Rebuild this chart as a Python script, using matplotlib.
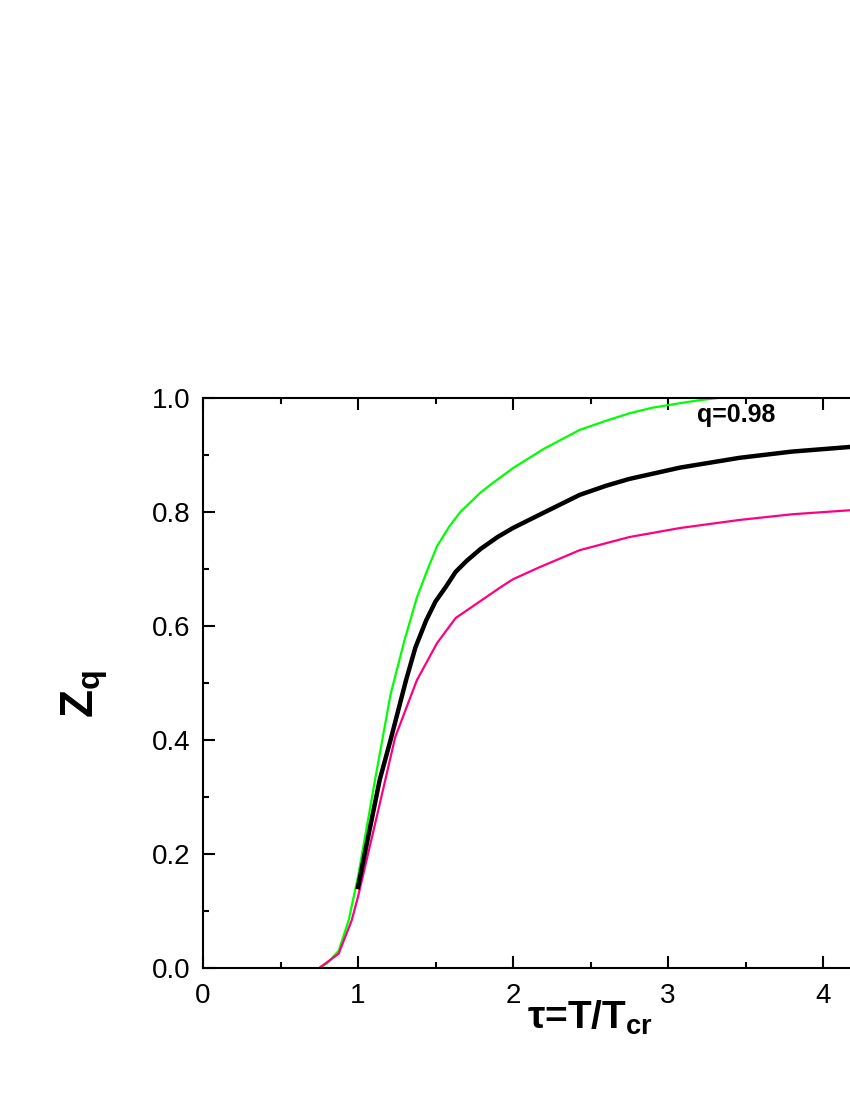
import numpy as np
import matplotlib
matplotlib.use("Agg")
import matplotlib.pyplot as plt
from matplotlib.ticker import MultipleLocator, FormatStrFormatter

plt.rcParams['font.family'] = ['Liberation Sans', 'DejaVu Sans']
plt.rcParams['mathtext.fontset'] = 'custom'
plt.rcParams['mathtext.rm'] = 'Liberation Sans'
plt.rcParams['mathtext.it'] = 'Liberation Sans'
plt.rcParams['mathtext.bf'] = 'Liberation Sans:bold'

# curves
tau_green = [0.75, 0.80, 0.875, 0.94, 1.00, 1.11, 1.21, 1.30, 1.38, 1.45, 1.51, 1.59, 1.66, 1.79, 1.87, 2.00, 2.20, 2.43, 2.60, 2.75, 2.90, 3.08, 3.20, 3.32]
z_green = [0.0, 0.008, 0.03, 0.084, 0.16, 0.33, 0.48, 0.575, 0.65, 0.70, 0.74, 0.775, 0.80, 0.834, 0.851, 0.877, 0.911, 0.944, 0.96, 0.973, 0.983, 0.991, 0.996, 1.0]

tau_black = [1.00, 1.14, 1.21, 1.31, 1.37, 1.44, 1.50, 1.57, 1.63, 1.70, 1.79, 1.90, 2.00, 2.17, 2.43, 2.60, 2.75, 3.08, 3.46, 3.80, 4.17, 4.30]
z_black = [0.142, 0.33, 0.40, 0.505, 0.562, 0.61, 0.643, 0.67, 0.695, 0.714, 0.735, 0.756, 0.772, 0.795, 0.83, 0.846, 0.858, 0.878, 0.895, 0.906, 0.914, 0.917]

tau_pink = [0.75, 0.875, 0.96, 1.00, 1.125, 1.24, 1.38, 1.51, 1.63, 1.77, 1.92, 2.00, 2.17, 2.43, 2.75, 3.08, 3.46, 3.80, 4.17, 4.30]
z_pink = [0.0, 0.025, 0.084, 0.125, 0.27, 0.405, 0.505, 0.57, 0.614, 0.64, 0.668, 0.682, 0.703, 0.733, 0.756, 0.772, 0.786, 0.796, 0.803, 0.806]

x_ticks = [0, 1, 2, 3, 4]
y_ticks = [0.0, 0.2, 0.4, 0.6, 0.8, 1.0]

fig = plt.figure(figsize=(8.5, 11), dpi=100)
ax = fig.add_axes([203/850, 1 - 968/1100, 775/850, 570/1100])

ax.plot(tau_green, z_green, color='#00ff00', lw=1.6)
ax.plot(tau_pink, z_pink, color='#ff0080', lw=1.6)
ax.plot(tau_black, z_black, color='black', lw=3.2)

ax.set_xlim(0, 5)
ax.set_ylim(0, 1)
ax.set_xticks(x_ticks)
ax.set_yticks(y_ticks)
ax.xaxis.set_minor_locator(MultipleLocator(0.5))
ax.yaxis.set_minor_locator(MultipleLocator(0.1))
ax.yaxis.set_major_formatter(FormatStrFormatter('%.1f'))

for s in ax.spines.values():
    s.set_linewidth(1.5)

ax.tick_params(which='both', direction='in', top=True, right=True, width=1.5, labelsize=20)
ax.tick_params(which='major', length=8.5)
ax.tick_params(which='minor', length=4.5)
ax.tick_params(axis='x', pad=11)
ax.tick_params(axis='y', pad=9)

ax.set_xlabel(r'τ=T/T$_{\mathbf{cr}}$', fontsize=28, fontweight='bold')
ax.xaxis.set_label_coords(0.5, -0.053)
ax.set_ylabel(r'Z$_{\mathbf{q}}$', fontsize=33, fontweight='bold')
ax.yaxis.set_label_coords(-0.12, 0.48)

ax.text(3.19, 0.958, 'q=0.98', fontsize=18, fontweight='bold')

fig.savefig('out.png', dpi=100)
